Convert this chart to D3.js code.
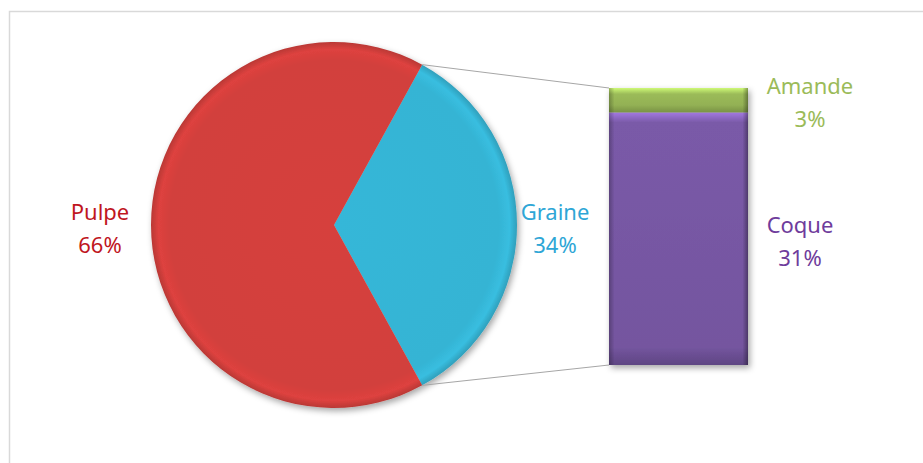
<!DOCTYPE html>
<html><head><meta charset="utf-8">
<script src="https://cdn.jsdelivr.net/npm/d3@7"></script>
<style>html,body{margin:0;padding:0;background:#fff;}svg{display:block;}</style>
</head><body>
<svg id="c" width="923" height="463"></svg>
<script>
const pieLabels = ["Graine", "Pulpe"];
const pieValues = [34, 66];
const pieColors = ["#35b4d4", "#d23f3c"];
const pieTextColors = ["#2ea6d6", "#c0161e"];
const barLabels = ["Coque", "Amande"];
const barValues = [31, 3];
const barColors = ["#7a5aa8", "#9bbb59"];
const barTextColors = ["#6f3c9c", "#9bbb59"];

const svg = d3.select("#c");
const W = 923, H = 463;
const defs = svg.append("defs");

// frame
svg.append("rect").attr("x", 9.5).attr("y", 11.5).attr("width", W).attr("height", H)
  .attr("fill", "#fff").attr("stroke", "#d9d9d9").attr("stroke-width", 1.5);

const cx = 334, cy = 225, R = 183;

const f = defs.append("filter").attr("id", "sh").attr("x", "-20%").attr("y", "-20%").attr("width", "140%").attr("height", "140%");
f.append("feDropShadow").attr("dx", 2).attr("dy", 3).attr("stdDeviation", 3).attr("flood-color", "#000").attr("flood-opacity", 0.35);

function radial(id, base) {
  const c = d3.color(base);
  const g = defs.append("radialGradient").attr("id", id)
    .attr("gradientUnits", "userSpaceOnUse").attr("cx", 0).attr("cy", 0).attr("r", R);
  g.append("stop").attr("offset", "0%").attr("stop-color", c.brighter(0.05));
  g.append("stop").attr("offset", "90%").attr("stop-color", base);
  g.append("stop").attr("offset", "96%").attr("stop-color", c.brighter(0.15));
  g.append("stop").attr("offset", "100%").attr("stop-color", c.darker(0.35));
}
pieColors.forEach((c, i) => radial("pg" + i, c));

const half = pieValues[0] / 100 * Math.PI; // Graine centred on the right
const pie = d3.pie().sort(null).value(d => d)
  .startAngle(Math.PI / 2 - half).endAngle(Math.PI / 2 - half + 2 * Math.PI);
const arcs = pie(pieValues);
const arc = d3.arc().innerRadius(0).outerRadius(R);

const pg = svg.append("g").attr("transform", `translate(${cx},${cy})`).attr("filter", "url(#sh)");
pg.selectAll("path").data(arcs).join("path")
  .attr("d", arc)
  .attr("fill", (d, i) => `url(#pg${i})`);

// bar
const y = d3.scaleLinear().domain([0, d3.sum(barValues)]).range([365, 88]);
const x = d3.scaleBand().domain(["bar"]).range([609, 748]).padding(0);
let acc = 0;
const segs = barValues.map((v, i) => { const s = { i, v, y0: acc, y1: acc + v }; acc += v; return s; });

barColors.forEach((c, i) => {
  const col = d3.color(c);
  const g = defs.append("linearGradient").attr("id", "bg" + i).attr("x1", 0).attr("x2", 0).attr("y1", 0).attr("y2", 1);
  g.append("stop").attr("offset", "0%").attr("stop-color", col.brighter(0.8));
  g.append("stop").attr("offset", i === 0 ? "4%" : "25%").attr("stop-color", c);
  g.append("stop").attr("offset", i === 0 ? "93%" : "70%").attr("stop-color", col.darker(0.15));
  g.append("stop").attr("offset", "100%").attr("stop-color", col.darker(0.7));
  const h = defs.append("linearGradient").attr("id", "bh" + i).attr("x1", 0).attr("x2", 1).attr("y1", 0).attr("y2", 0);
  h.append("stop").attr("offset", "0%").attr("stop-color", "#000").attr("stop-opacity", 0.25);
  h.append("stop").attr("offset", "4%").attr("stop-color", "#000").attr("stop-opacity", 0);
  h.append("stop").attr("offset", "96%").attr("stop-color", "#000").attr("stop-opacity", 0);
  h.append("stop").attr("offset", "100%").attr("stop-color", "#000").attr("stop-opacity", 0.35);
});

const bg = svg.append("g").attr("filter", "url(#sh)");
bg.selectAll("rect.seg").data(segs).join("rect").attr("class", "seg")
  .attr("x", x("bar")).attr("width", x.bandwidth())
  .attr("y", d => y(d.y1)).attr("height", d => y(d.y0) - y(d.y1))
  .attr("fill", d => `url(#bg${d.i})`);
svg.selectAll("rect.shade").data(segs).join("rect").attr("class", "shade")
  .attr("x", x("bar")).attr("width", x.bandwidth())
  .attr("y", d => y(d.y1)).attr("height", d => y(d.y0) - y(d.y1))
  .attr("fill", d => `url(#bh${d.i})`);

// connector lines
const a0 = arcs[0];
const pTop = [cx + R * Math.sin(a0.startAngle), cy - R * Math.cos(a0.startAngle)];
const pBot = [cx + R * Math.sin(a0.endAngle), cy - R * Math.cos(a0.endAngle)];
svg.append("line").attr("x1", pTop[0]).attr("y1", pTop[1]).attr("x2", x("bar")).attr("y2", y(d3.sum(barValues)))
  .attr("stroke", "#a6a6a6").attr("stroke-width", 1);
svg.append("line").attr("x1", pBot[0]).attr("y1", pBot[1]).attr("x2", x("bar")).attr("y2", y(0))
  .attr("stroke", "#a6a6a6").attr("stroke-width", 1);

// labels
const font = "'Noto Sans', sans-serif";
function label(xp, yp, name, pct, color) {
  const t = svg.append("text").attr("x", xp).attr("y", yp).attr("text-anchor", "middle")
    .attr("font-family", font).attr("font-size", 22).attr("fill", color);
  t.append("tspan").attr("x", xp).text(name);
  t.append("tspan").attr("x", xp).attr("dy", 33).text(pct + "%");
}
label(100, 220, pieLabels[1], pieValues[1], pieTextColors[1]);
label(555, 220, pieLabels[0], pieValues[0], pieTextColors[0]);
label(810, 94, barLabels[1], barValues[1], barTextColors[1]);
label(800, 233, barLabels[0], barValues[0], barTextColors[0]);
</script>
</body></html>
